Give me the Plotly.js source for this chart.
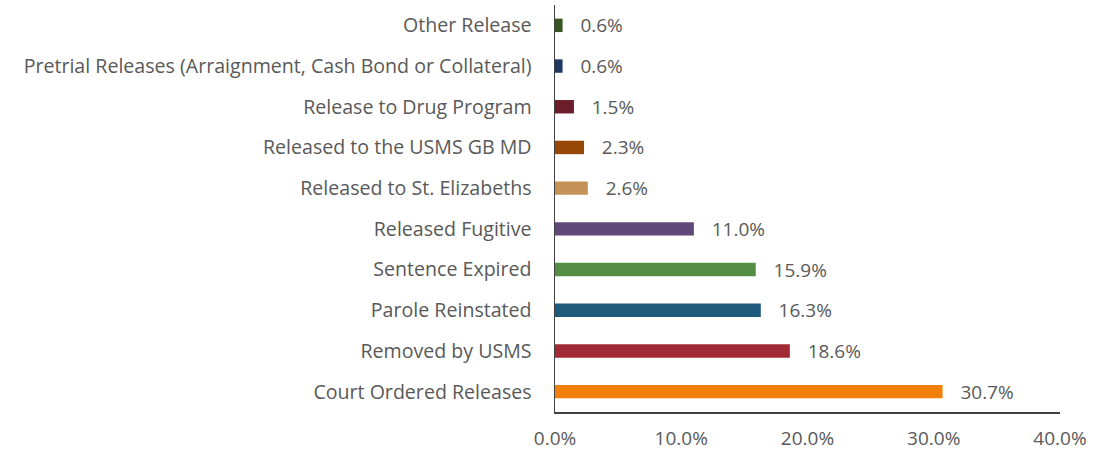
<!DOCTYPE html>
<html>
<head>
<meta charset="utf-8">
<script src="https://cdn.plot.ly/plotly-3.0.1.min.js"></script>
<style>html,body{margin:0;padding:0;background:#fff;}#chart{width:1108px;height:453px;}</style>
</head>
<body>
<div id="chart"></div>
<script>
const categories = [
  "Court Ordered Releases",
  "Removed by USMS",
  "Parole Reinstated",
  "Sentence Expired",
  "Released Fugitive",
  "Released to St. Elizabeths",
  "Released to the USMS GB MD",
  "Release to Drug Program",
  "Pretrial Releases (Arraignment, Cash Bond or Collateral)",
  "Other Release"
];
const values = [30.7, 18.6, 16.3, 15.9, 11.0, 2.6, 2.3, 1.5, 0.6, 0.6];
const colors = ["#f0800a", "#a12a36", "#1f5a7d", "#548d44", "#604878", "#c59358", "#974706", "#6b1d2a", "#1f3864", "#375623"];
const tickVals = [0, 10, 20, 30, 40];
const tickText = ["0.0%", "10.0%", "20.0%", "30.0%", "40.0%"];

const fontFam = "'Open Sans', 'Noto Sans', Arial, sans-serif";
const fs = 19.6;
const trace = {
  type: "bar",
  orientation: "h",
  y: categories,
  x: values,
  marker: {color: colors},
  width: 0.33,
  text: values.map(v => v.toFixed(1) + "%"),
  textposition: "outside",
  texttemplate: "   %{text}",
  constraintext: "none",
  textfont: {family: fontFam, size: 19, color: "#595959"},
  cliponaxis: false,
  hoverinfo: "none"
};

const layout = {
  width: 1108,
  height: 453,
  margin: {l: 555, r: 48, t: 5, b: 41},
  paper_bgcolor: "#ffffff",
  plot_bgcolor: "#ffffff",
  showlegend: false,
  font: {family: fontFam, size: fs, color: "#595959"},
  xaxis: {
    range: [0, 40],
    tickvals: tickVals,
    ticktext: tickText,
    showgrid: false,
    zeroline: false,
    showline: true,
    linecolor: "#404040",
    linewidth: 1.5,
    ticks: "",
    tickfont: {family: fontFam, size: 19, color: "#595959"},
    ticklabelstandoff: 9,
    fixedrange: true
  },
  yaxis: {
    type: "category",
    categoryorder: "array",
    categoryarray: categories,
    showgrid: false,
    zeroline: false,
    showline: true,
    linecolor: "#404040",
    linewidth: 1.5,
    ticks: "",
    tickfont: {family: fontFam, size: fs, color: "#595959"},
    ticklabelstandoff: 18,
    fixedrange: true
  }
};

Plotly.newPlot("chart", [trace], layout, {displayModeBar: false, staticPlot: true});
</script>
</body>
</html>
